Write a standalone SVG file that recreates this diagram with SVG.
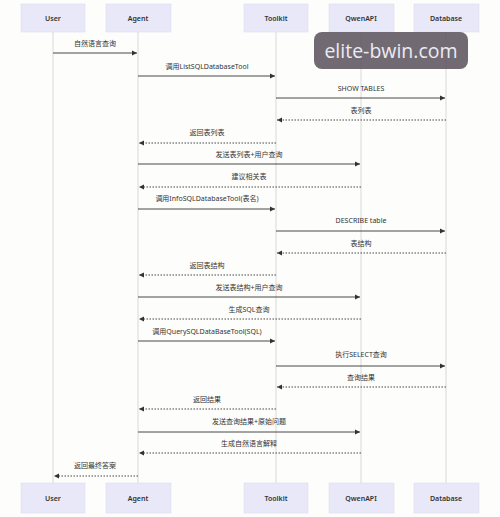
<svg xmlns="http://www.w3.org/2000/svg" width="500" height="517" viewBox="0 0 500 517">
<style>
.bg{fill:#fdfdfb}
.box{fill:#e8e8f8;stroke:#dcdcf0;stroke-width:0.6}
.pt{font-family:"Noto Sans","Noto Sans CJK SC",sans-serif;font-size:7px;fill:#333;text-anchor:middle;font-weight:600}
.life{stroke:#cfcfcf;stroke-width:0.8}
.msg{stroke:#333;stroke-width:0.9;fill:none}
.dash{stroke-dasharray:1.5,1.5}
.lbl{font-family:"Noto Sans","Noto Sans CJK SC",sans-serif;font-size:7px;fill:#333;text-anchor:middle}
.wm{fill:#5e5560;fill-opacity:0.88}
.wmt{font-family:"Open Sans","Noto Sans",sans-serif;font-size:19.5px;fill:#ecebf2;text-anchor:middle}
</style>
<defs>
<marker id="ah" markerWidth="6" markerHeight="6" refX="5" refY="3" orient="auto" markerUnits="userSpaceOnUse">
<path d="M0,0.5 L5,3 L0,5.5 Z" fill="#333"/>
</marker>
</defs>
<rect class="bg" x="0" y="0" width="500" height="517"/>
<g id="lifelines">
<line class="life" x1="53" y1="32" x2="53" y2="483"/>
<line class="life" x1="138" y1="32" x2="138" y2="483"/>
<line class="life" x1="276" y1="32" x2="276" y2="483"/>
<line class="life" x1="361" y1="32" x2="361" y2="483"/>
<line class="life" x1="446" y1="32" x2="446" y2="483"/>
</g>
<g id="User">
<rect class="box" x="21" y="4" width="64" height="28"/><text class="pt" x="53" y="21">User</text>
<rect class="box" x="21" y="483" width="64" height="30"/><text class="pt" x="53" y="501">User</text>
</g>
<g id="Agent">
<rect class="box" x="106" y="4" width="65" height="28"/><text class="pt" x="138" y="21">Agent</text>
<rect class="box" x="106" y="483" width="65" height="30"/><text class="pt" x="138" y="501">Agent</text>
</g>
<g id="Toolkit">
<rect class="box" x="244" y="4" width="64" height="28"/><text class="pt" x="276" y="21">Toolkit</text>
<rect class="box" x="244" y="483" width="64" height="30"/><text class="pt" x="276" y="501">Toolkit</text>
</g>
<g id="QwenAPI">
<rect class="box" x="329" y="4" width="65" height="28"/><text class="pt" x="361" y="21">QwenAPI</text>
<rect class="box" x="329" y="483" width="65" height="30"/><text class="pt" x="361" y="501">QwenAPI</text>
</g>
<g id="Database">
<rect class="box" x="414" y="4" width="65" height="28"/><text class="pt" x="446" y="21">Database</text>
<rect class="box" x="414" y="483" width="65" height="30"/><text class="pt" x="446" y="501">Database</text>
</g>
<g id="connectors">
<line class="msg" x1="53" y1="53" x2="137" y2="53" marker-end="url(#ah)"/>
<text class="lbl" x="95" y="46">自然语言查询</text>
<line class="msg" x1="138" y1="76" x2="275" y2="76" marker-end="url(#ah)"/>
<text class="lbl" x="207" y="69">调用ListSQLDatabaseTool</text>
<line class="msg" x1="276" y1="98" x2="445" y2="98" marker-end="url(#ah)"/>
<text class="lbl" x="361" y="91">SHOW TABLES</text>
<line class="msg dash" x1="446" y1="120" x2="277" y2="120" marker-end="url(#ah)"/>
<text class="lbl" x="361" y="113">表列表</text>
<line class="msg dash" x1="276" y1="143" x2="139" y2="143" marker-end="url(#ah)"/>
<text class="lbl" x="207" y="135">返回表列表</text>
<line class="msg" x1="138" y1="164" x2="360" y2="164" marker-end="url(#ah)"/>
<text class="lbl" x="249" y="157">发送表列表+用户查询</text>
<line class="msg dash" x1="361" y1="187" x2="139" y2="187" marker-end="url(#ah)"/>
<text class="lbl" x="249" y="179">建议相关表</text>
<line class="msg" x1="138" y1="209" x2="275" y2="209" marker-end="url(#ah)"/>
<text class="lbl" x="207" y="201">调用InfoSQLDatabaseTool(表名)</text>
<line class="msg" x1="276" y1="231" x2="445" y2="231" marker-end="url(#ah)"/>
<text class="lbl" x="361" y="223">DESCRIBE table</text>
<line class="msg dash" x1="446" y1="253" x2="277" y2="253" marker-end="url(#ah)"/>
<text class="lbl" x="361" y="246">表结构</text>
<line class="msg dash" x1="276" y1="275" x2="139" y2="275" marker-end="url(#ah)"/>
<text class="lbl" x="207" y="268">返回表结构</text>
<line class="msg" x1="138" y1="297" x2="360" y2="297" marker-end="url(#ah)"/>
<text class="lbl" x="249" y="290">发送表结构+用户查询</text>
<line class="msg dash" x1="361" y1="319" x2="139" y2="319" marker-end="url(#ah)"/>
<text class="lbl" x="249" y="312">生成SQL查询</text>
<line class="msg" x1="138" y1="341" x2="275" y2="341" marker-end="url(#ah)"/>
<text class="lbl" x="207" y="334">调用QuerySQLDataBaseTool(SQL)</text>
<line class="msg" x1="276" y1="366" x2="445" y2="366" marker-end="url(#ah)"/>
<text class="lbl" x="361" y="357">执行SELECT查询</text>
<line class="msg dash" x1="446" y1="387" x2="277" y2="387" marker-end="url(#ah)"/>
<text class="lbl" x="361" y="380">查询结果</text>
<line class="msg dash" x1="276" y1="409" x2="139" y2="409" marker-end="url(#ah)"/>
<text class="lbl" x="207" y="402">返回结果</text>
<line class="msg" x1="138" y1="432" x2="360" y2="432" marker-end="url(#ah)"/>
<text class="lbl" x="249" y="424">发送查询结果+原始问题</text>
<line class="msg dash" x1="361" y1="453" x2="139" y2="453" marker-end="url(#ah)"/>
<text class="lbl" x="249" y="446">生成自然语言解释</text>
<line class="msg dash" x1="138" y1="476" x2="54" y2="476" marker-end="url(#ah)"/>
<text class="lbl" x="95" y="468">返回最终答案</text>
</g>
<g id="watermark">
<rect class="wm" x="314" y="32" width="154" height="37" rx="8"/>
<text class="wmt" x="391" y="58">elite-bwin.com</text>
</g>
</svg>
